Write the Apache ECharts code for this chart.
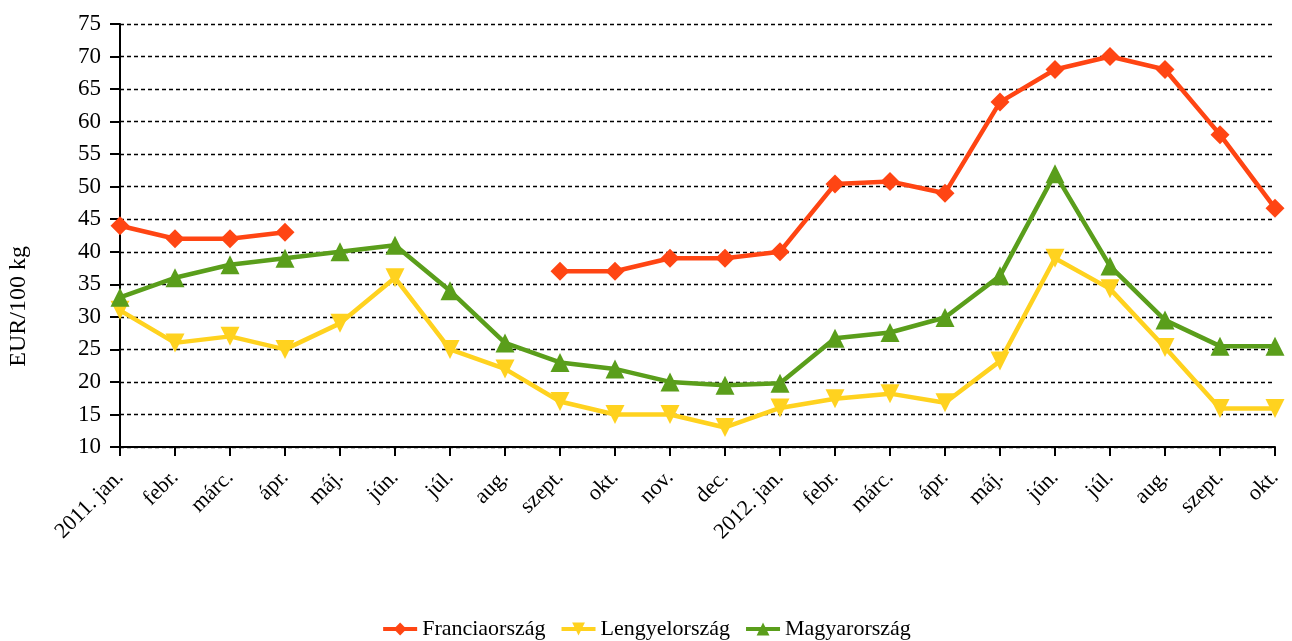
<!DOCTYPE html>
<html>
<head>
<meta charset="utf-8">
<script src="https://cdn.jsdelivr.net/npm/echarts@6/dist/echarts.min.js"></script>
<style>
  html, body { margin: 0; padding: 0; background: #fff; }
  #chart { width: 1292px; height: 641px; }
</style>
</head>
<body>
<div id="chart"></div>
<script>
// hónapok
var months = ['2011. jan.', 'febr.', 'márc.', 'ápr.', 'máj.', 'jún.', 'júl.', 'aug.', 'szept.', 'okt.', 'nov.', 'dec.',
  '2012. jan.', 'febr.', 'márc.', 'ápr.', 'máj.', 'jún.', 'júl.', 'aug.', 'szept.', 'okt.'];

var francia = [44, 42, 42, 43, null, null, null, null, 37, 37, 39, 39, 40, 50.4, 50.8, 49, 63, 68, 70, 68, 58, 46.7];
var lengyel = [31, 26, 27, 25, 29, 36, 25, 22, 17, 15, 15, 13, 16, 17.4, 18.2, 16.8, 23.2, 39, 34.3, 25.3, 15.9, 15.9];
var magyar = [33, 36, 38, 39, 40, 41, 34, 26, 23, 22, 20, 19.5, 19.8, 26.7, 27.6, 29.9, 36.3, 52, 37.8, 29.5, 25.5, 25.5];

var seriesNames = ['Franciaország', 'Lengyelország', 'Magyarország'];
var colors = ['#FF4513', '#FFD21F', '#5A9E1B'];

var chart = echarts.init(document.getElementById('chart'));
var font = '"Liberation Serif", "Times New Roman", serif';

function mkSerie(i, data, symbol, size, rotate) {
  return {
    name: seriesNames[i],
    type: 'line',
    data: data,
    symbol: symbol,
    symbolSize: size,
    symbolRotate: rotate || 0,
    showAllSymbol: true,
    connectNulls: false,
    animation: false,
    itemStyle: { color: colors[i] },
    lineStyle: { color: colors[i], width: 4.5 }
  };
}

var option = {
  textStyle: { fontFamily: font },
  grid: { left: 120, right: 17, top: 24, bottom: 194, containLabel: false },
  legend: {
    bottom: -4,
    left: 'center',
    itemWidth: 34,
    itemHeight: 16,
    itemGap: 14,
    lineStyle: { width: 4 },
    textStyle: { fontFamily: font, fontSize: 22, color: '#000' },
    data: seriesNames
  },
  xAxis: {
    type: 'category',
    data: months,
    boundaryGap: false,
    axisLine: { lineStyle: { color: '#000', width: 2 } },
    axisTick: { show: true, length: 9, alignWithLabel: true, lineStyle: { color: '#000', width: 2 } },
    axisLabel: {
      interval: 0,
      rotate: 45,
      margin: 27,
      fontFamily: font,
      fontSize: 22,
      color: '#000'
    },
    splitLine: { show: false }
  },
  yAxis: {
    type: 'value',
    min: 10,
    max: 75,
    interval: 5,
    axisLine: { show: true, lineStyle: { color: '#000', width: 2 } },
    axisTick: { show: true, inside: false, length: 10, lineStyle: { color: '#000', width: 2 } },
    axisLabel: { fontFamily: font, fontSize: 23, color: '#000', margin: 19 },
    splitLine: { show: true, lineStyle: { color: '#000', type: [4, 3], width: 1.3 } }
  },
  graphic: [{
    type: 'text',
    left: 7,
    top: 246,
    rotation: Math.PI / 2,
    style: { text: 'EUR/100 kg', font: '24px ' + font, fill: '#000' }
  }],
  series: [
    mkSerie(0, francia, 'diamond', 19),
    mkSerie(1, lengyel, 'triangle', 19, 180),
    mkSerie(2, magyar, 'triangle', 19)
  ]
};

chart.setOption(option);
</script>
</body>
</html>
